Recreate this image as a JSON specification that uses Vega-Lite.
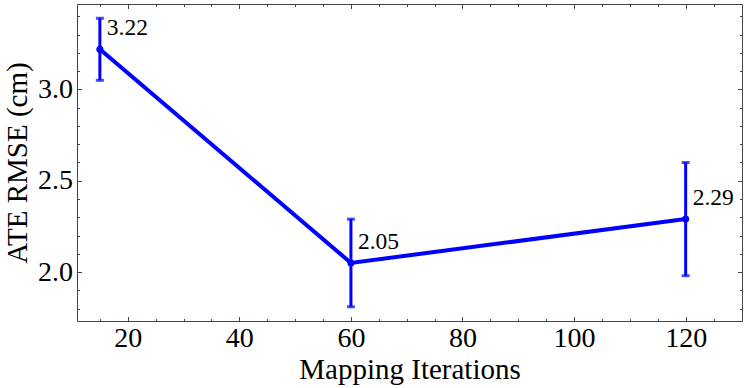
{
  "$schema": "https://vega.github.io/schema/vega-lite/v6.json",
  "width": 665,
  "height": 317,
  "autosize": "none",
  "padding": {"left": 77, "top": 4, "right": 5, "bottom": 67},
  "background": "white",
  "config": {
    "view": {"stroke": null},
    "font": "Liberation Serif",
    "axis": {
      "domainColor": "#444",
      "domainWidth": 1,
      "tickColor": "#444",
      "tickWidth": 1,
      "grid": false,
      "labelFont": "Liberation Serif",
      "labelFontSize": 28,
      "labelColor": "black",
      "titleFont": "Liberation Serif",
      "titleFontSize": 29,
      "titleFontWeight": "normal",
      "titleColor": "black"
    }
  },
  "data": {
    "values": [
      {"iter": 15, "rmse": 3.22, "lo": 3.05, "hi": 3.39, "label": "3.22"},
      {"iter": 60, "rmse": 2.05, "lo": 1.81, "hi": 2.29, "label": "2.05"},
      {"iter": 120, "rmse": 2.29, "lo": 1.98, "hi": 2.60, "label": "2.29"}
    ]
  },
  "layer": [
    {
      "mark": {"type": "line", "color": "#0000ff", "strokeWidth": 4},
      "encoding": {
        "x": {
          "field": "iter", "type": "quantitative",
          "scale": {"domain": [10.9, 130.1], "nice": false, "zero": false},
          "axis": {
            "orient": "bottom",
            "title": "Mapping Iterations",
            "values": [15, 20, 25, 30, 35, 40, 45, 50, 55, 60, 65, 70, 75, 80, 85, 90, 95, 100, 105, 110, 115, 120, 125],
            "tickSize": {"expr": "datum.value % 20 === 0 ? -4.5 : -2.5"},
            "labelExpr": "datum.value % 20 === 0 ? datum.label : ''",
            "labelPadding": 8,
            "labelFlush": false,
            "labelOverlap": false,
            "titleY": 57,
            "titleBaseline": "alphabetic"
          }
        },
        "y": {
          "field": "rmse", "type": "quantitative",
          "scale": {"domain": [1.732, 3.468], "nice": false, "zero": false},
          "axis": {
            "orient": "left",
            "title": "ATE RMSE (cm)",
            "values": [1.8, 1.9, 2.0, 2.1, 2.2, 2.3, 2.4, 2.5, 2.6, 2.7, 2.8, 2.9, 3.0, 3.1, 3.2, 3.3, 3.4],
            "tickSize": {"expr": "round(datum.value * 10) % 5 === 0 ? -4.5 : -2.5"},
            "labelExpr": "round(datum.value * 10) % 5 === 0 ? format(datum.value, '.1f') : ''",
            "labelPadding": 9,
            "labelFlush": false,
            "labelOverlap": false,
            "titleX": -51,
            "titleBaseline": "alphabetic"
          }
        }
      }
    },
    {
      "mark": {"type": "errorbar", "color": "#0000ff", "thickness": 3, "ticks": {"size": 8, "thickness": 3, "color": "#0000ff"}},
      "encoding": {
        "x": {"field": "iter", "type": "quantitative", "axis": null},
        "y": {"field": "lo", "type": "quantitative", "axis": null},
        "y2": {"field": "hi"}
      }
    },
    {
      "mark": {"type": "point", "filled": true, "color": "#0000ff", "size": 50, "opacity": 1},
      "encoding": {
        "x": {"field": "iter", "type": "quantitative", "axis": null},
        "y": {"field": "rmse", "type": "quantitative", "axis": null}
      }
    },
    {
      "mark": {"type": "text", "align": "left", "baseline": "middle", "dx": 7, "dy": -21, "fontSize": 23.5, "font": "Liberation Serif", "color": "black"},
      "encoding": {
        "x": {
          "field": "iter", "type": "quantitative",
          "axis": {
            "orient": "top", "title": null, "labels": false,
            "values": [15, 20, 25, 30, 35, 40, 45, 50, 55, 60, 65, 70, 75, 80, 85, 90, 95, 100, 105, 110, 115, 120, 125],
            "tickSize": {"expr": "datum.value % 20 === 0 ? -4.5 : -2.5"}
          }
        },
        "y": {
          "field": "rmse", "type": "quantitative",
          "axis": {
            "orient": "right", "title": null, "labels": false,
            "values": [1.8, 1.9, 2.0, 2.1, 2.2, 2.3, 2.4, 2.5, 2.6, 2.7, 2.8, 2.9, 3.0, 3.1, 3.2, 3.3, 3.4],
            "tickSize": {"expr": "round(datum.value * 10) % 5 === 0 ? -4.5 : -2.5"}
          }
        },
        "text": {"field": "label"}
      }
    }
  ],
  "resolve": {"axis": {"x": "independent", "y": "independent"}}
}
